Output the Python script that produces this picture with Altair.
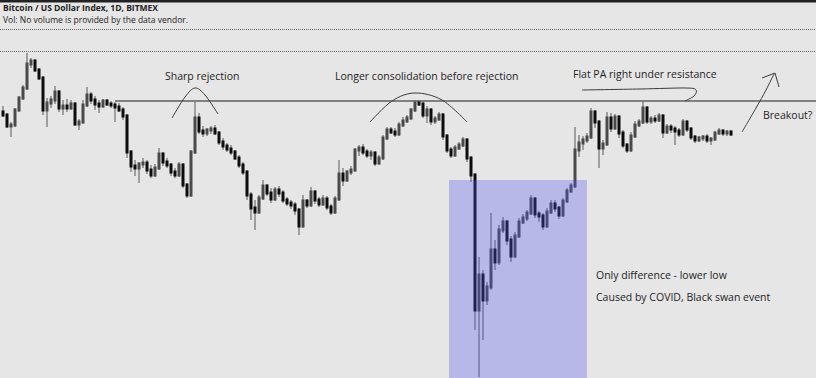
import altair as alt
import pandas as pd

# ---- candle data (chart price units) ----
OPEN = [288,285,274,275,290,302,312,336,339,330,322,290,297,300,308,292,294,292,296,276,
        278,295,305,300,296,294,299,296,295,293,290,284,248,234,232,236,237,230,225,232,
        246,238,235,228,225,235,215,205,248,282,269,267,270,271,267,258,254,251,248,242,
        235,228,205,192,188,202,214,207,201,210,207,200,197,195,190,174,199,195,208,200,
        196,201,193,188,201,226,220,228,230,250,252,248,245,247,237,242,262,270,268,266,
        275,279,282,290,297,296,285,290,279,281,285,264,250,245,252,255,260,242,225,90,
        125,100,113,150,138,170,178,160,144,164,178,182,187,201,186,184,174,188,196,192,
        185,199,209,214,250,257,260,263,288,278,252,256,282,272,283,267,255,250,264,275,
        278,292,279,281,280,284,268,273,271,269,266,278,271,263,260,262,263,260,261,267,
        269,267,268]
HIGH = [294,287,278,292,304,315,347,342,341,332,324,302,304,314,310,300,301,300,298,281,
        300,313,308,304,300,301,301,299,298,297,293,286,250,240,238,242,240,235,236,252,
        248,242,237,232,238,237,217,250,298,287,274,272,274,275,269,262,257,255,250,245,
        238,230,208,200,205,220,216,212,213,214,210,203,200,198,192,205,201,213,210,203,
        205,204,196,204,240,232,230,234,252,255,256,251,250,249,245,265,273,273,272,278,
        283,285,292,300,300,298,294,292,284,288,287,266,253,255,258,263,262,244,227,143,
        130,118,187,160,175,183,180,164,168,182,186,190,205,203,189,187,192,200,200,194,
        202,212,217,273,265,264,267,292,290,280,260,288,287,286,285,270,257,268,279,281,
        299,294,284,285,287,286,276,276,274,272,281,280,273,265,264,265,266,263,269,272,
        271,270,270]
LOW = [283,272,263,273,288,300,310,332,328,320,285,273,292,296,288,285,288,290,274,270,
       276,293,296,290,287,292,294,292,278,288,280,242,228,224,217,232,226,222,223,230,
       234,232,224,222,223,212,202,203,246,266,263,264,266,265,255,250,248,245,240,232,
       225,200,180,170,186,200,204,197,199,203,197,194,191,185,165,172,192,193,196,193,
       194,190,185,186,199,214,218,225,228,244,245,242,240,234,235,240,260,266,263,264,
       273,277,280,288,294,282,277,275,276,279,260,247,242,243,250,253,238,218,70,23,
       60,95,110,130,135,167,155,138,142,162,176,179,185,182,178,170,172,186,188,181,
       183,197,207,212,243,250,257,261,272,232,245,254,268,270,262,252,247,248,262,273,
       276,276,276,277,278,262,266,267,255,263,264,268,260,257,258,259,257,255,259,265,
       264,264,264]
CLOSE = [285,274,275,290,302,312,336,339,330,322,290,297,300,308,292,294,292,296,276,278,
         295,305,300,296,294,299,296,295,293,290,284,248,234,232,236,237,230,225,232,246,
         238,235,228,225,235,215,205,248,282,269,267,270,271,267,258,254,251,248,242,235,
         228,205,192,188,202,214,207,201,210,207,200,197,195,190,174,199,195,208,200,196,
         201,193,188,201,226,220,228,230,250,252,248,245,247,237,242,262,270,268,266,275,
         279,282,290,297,296,285,290,279,281,285,264,250,245,252,255,260,242,225,90,125,
         100,113,150,138,170,178,160,144,164,178,182,187,201,186,184,174,188,196,192,185,
         199,209,214,250,257,260,263,288,278,252,256,282,272,283,267,255,250,264,275,278,
         292,279,281,280,284,268,273,271,269,266,278,271,263,260,262,263,260,261,267,269,
         267,268,266]
DAY = list(range(len(CLOSE)))

RESISTANCE = 299
RES_START_DAY = 28
BOX_DAYS = [111.5, 146]
BOX_TOP = 220

ANN_TEXT = ["Sharp rejection", "Longer consolidation before rejection",
            "Flat PA right under resistance", "Breakout?",
            "Only difference - lower low", "Caused by COVID, Black swan event"]
ANN_DAY = [40.5, 83, 142.5, 190, 148.25, 148.25]
ANN_PRICE = [323, 323, 325, 284, 124, 102]

# hand-drawn annotation strokes
SHAPE_GRP = ["a"] * 5 + ["b"] * 5 + ["c"] * 6 + ["d"] * 4
SHAPE_DAY = [42.25, 45.5, 48, 50.5, 53.75,
             91.75, 97.25, 103, 109.75, 116,
             144.75, 159.25, 170.75, 173.25, 172.75, 170.5,
             184.75, 188.25, 190.75, 192.75]
SHAPE_PRICE = [282, 303, 312, 305, 286,
               278, 299, 307, 300, 278,
               310, 311, 312, 310, 304, 299,
               268, 292, 310, 326]
HEAD_DAY = [189.75, 193, 194]
HEAD_PRICE = [322, 327, 313]

df = pd.DataFrame(dict(day=DAY, open=OPEN, high=HIGH, low=LOW, close=CLOSE))
df["dir"] = ["up" if c >= o else "down" for o, c in zip(OPEN, CLOSE)]

xs = alt.Scale(domain=[-0.75, 203.25], nice=False, zero=False)
ys = alt.Scale(domain=[22, 400], nice=False, zero=False)

base = alt.Chart(df)
wicks = base.mark_rule(color="#6f6f6f", strokeWidth=1.2).encode(
    x=alt.X("day:Q", scale=xs, axis=None),
    y=alt.Y("low:Q", scale=ys, axis=None),
    y2="high:Q",
)
bodies = base.mark_rule(strokeWidth=3, strokeCap="square").encode(
    x=alt.X("day:Q", scale=xs, axis=None),
    y=alt.Y("open:Q", scale=ys, axis=None),
    y2="close:Q",
    color=alt.Color("dir:N", scale=alt.Scale(domain=["up", "down"], range=["#4a4a4a", "#0d0d0d"]), legend=None),
)

one = pd.DataFrame({"k": [0]})
res = alt.Chart(pd.DataFrame({"d1": [RES_START_DAY], "d2": [203.25], "p": [RESISTANCE]})).mark_rule(
    color="#808080", strokeWidth=2).encode(
    x=alt.X("d1:Q", scale=xs, axis=None), x2="d2:Q", y=alt.Y("p:Q", scale=ys, axis=None))

box = alt.Chart(pd.DataFrame({"d1": [BOX_DAYS[0]], "d2": [BOX_DAYS[1]], "p1": [22], "p2": [BOX_TOP]})).mark_rect(
    color="#5050f0", opacity=0.3).encode(
    x=alt.X("d1:Q", scale=xs, axis=None), x2="d2:Q",
    y=alt.Y("p1:Q", scale=ys, axis=None), y2="p2:Q")

ann = alt.Chart(pd.DataFrame({"t": ANN_TEXT, "d": ANN_DAY, "p": ANN_PRICE})).mark_text(
    align="left", baseline="middle", font="Open Sans", fontSize=10.5, fontWeight=500, color="#1e1e1e").encode(
    x=alt.X("d:Q", scale=xs, axis=None), y=alt.Y("p:Q", scale=ys, axis=None), text="t:N")

sdf = pd.DataFrame({"g": SHAPE_GRP, "d": SHAPE_DAY, "p": SHAPE_PRICE})
sdf["o"] = range(len(sdf))
shapes = alt.Chart(sdf).mark_line(color="#3a3a3a", strokeWidth=1, interpolate="cardinal").encode(
    x=alt.X("d:Q", scale=xs, axis=None), y=alt.Y("p:Q", scale=ys, axis=None),
    detail="g:N", order="o:Q")
hdf = pd.DataFrame({"d": HEAD_DAY, "p": HEAD_PRICE, "o": [0, 1, 2]})
head = alt.Chart(hdf).mark_line(color="#3a3a3a", strokeWidth=1).encode(
    x=alt.X("d:Q", scale=xs, axis=None), y=alt.Y("p:Q", scale=ys, axis=None), order="o:Q")

topline = alt.Chart(one).mark_rule(color="#222222", strokeWidth=3).encode(
    x=alt.value(0), x2=alt.value(816), y=alt.value(1))
dot1 = alt.Chart(one).mark_rule(color="#666666", strokeWidth=1, strokeDash=[1, 1]).encode(
    x=alt.value(0), x2=alt.value(816), y=alt.value(29.5))
dot2 = alt.Chart(one).mark_rule(color="#666666", strokeWidth=1, strokeDash=[1, 1]).encode(
    x=alt.value(0), x2=alt.value(816), y=alt.value(51.5))
title1 = alt.Chart(one).mark_text(align="left", baseline="middle", font="Open Sans", fontSize=8.5,
                                  fontWeight="bold", color="#222222", text="Bitcoin / US Dollar Index, 1D, BITMEX").encode(
    x=alt.value(3), y=alt.value(8))
title2 = alt.Chart(one).mark_text(align="left", baseline="middle", font="Open Sans", fontSize=8.5,
                                  color="#222222", text="Vol: No volume is provided by the data vendor.").encode(
    x=alt.value(3), y=alt.value(20))

chart = alt.layer(res, wicks, bodies, box, shapes, head, ann, topline, dot1, dot2, title1, title2).properties(
    width=816, height=378, padding=0, autosize=alt.AutoSizeParams(type="none"),
    background="#e6e6e6",
).configure_view(stroke=None, fill="#e6e6e6")

chart.save("out.html", embed_options={"renderer": "svg", "actions": False})
